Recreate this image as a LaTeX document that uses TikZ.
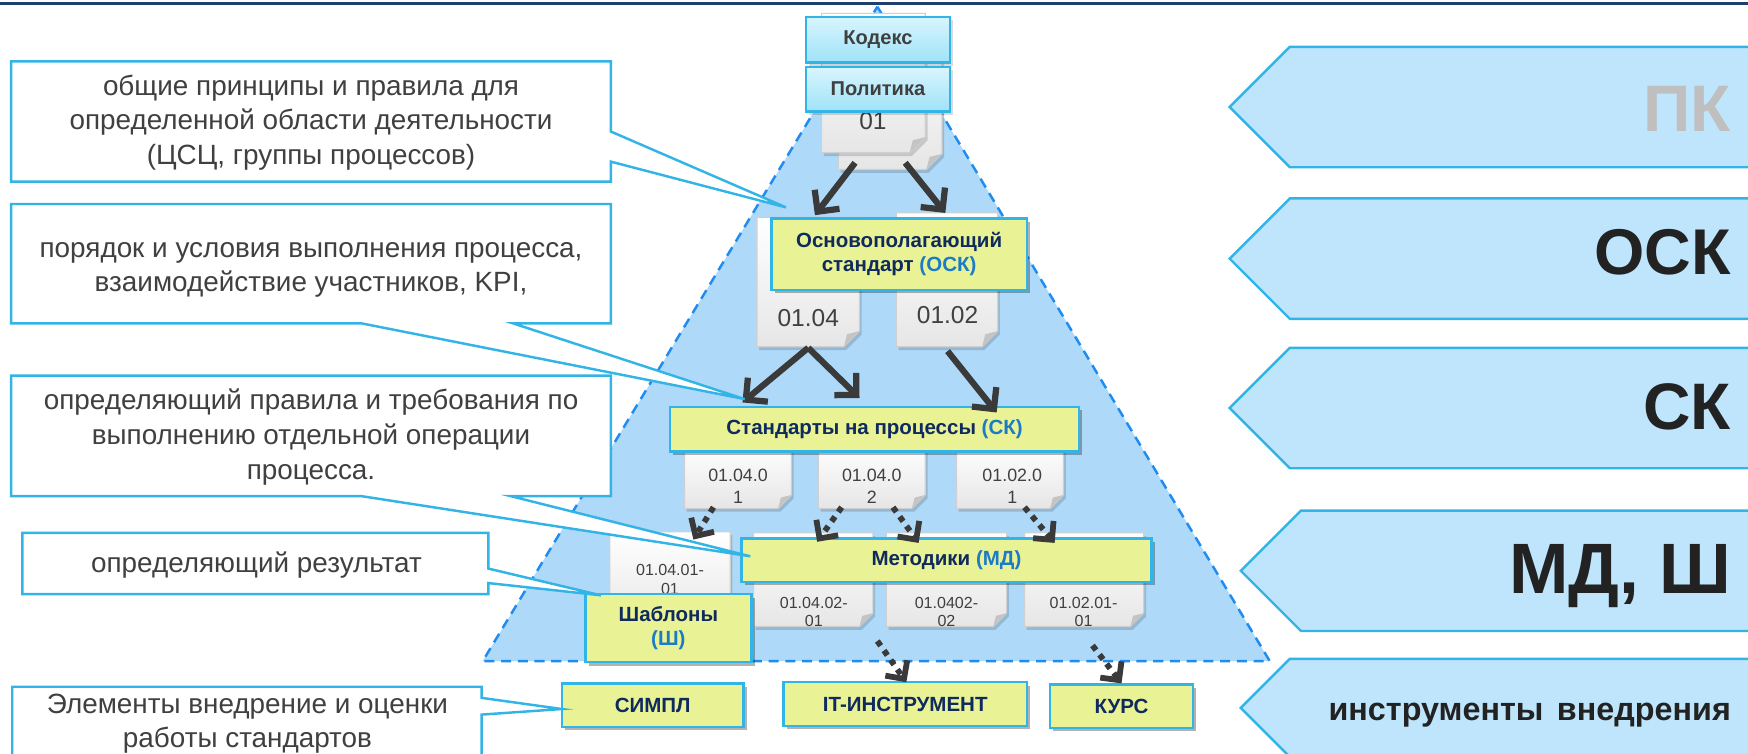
\documentclass[tikz,border=0pt]{standalone}
\usepackage{fontspec}
\setmainfont{Liberation Sans}
\usetikzlibrary{arrows.meta,shadows}
\definecolor{navyL}{HTML}{1F3F6E}
\definecolor{triF}{HTML}{AED9F9}
\definecolor{triD}{HTML}{1E8CF0}
\definecolor{rarF}{HTML}{BEE5FC}
\definecolor{cyanB}{HTML}{33B4E6}
\definecolor{yelF}{HTML}{E9F294}
\definecolor{navyT}{HTML}{0F2A5C}
\definecolor{blueT}{HTML}{1C7BC6}
\definecolor{grayT}{HTML}{404040}
\definecolor{kodT}{HTML}{D8F5FE}
\definecolor{kodB}{HTML}{9FE3F8}
\definecolor{pkG}{HTML}{BFBFBF}
\definecolor{arrG}{HTML}{3A3A3A}
\definecolor{docG}{HTML}{E6E6E6}
\definecolor{docB}{HTML}{D0D0D0}
\definecolor{foldC}{HTML}{C4C4C4}
\definecolor{darkT}{HTML}{222222}

\tikzset{
 callout/.style={fill=white, draw=cyanB, line width=1.1pt, line join=miter},
 ctext/.style={align=center, text=grayT, inner sep=0pt, font=\fontsize{12.5}{15.5}\selectfont},
 ybox/.style={fill=yelF, draw=cyanB, line width=1.1pt, inner sep=0pt, align=center, text=navyT,
   font=\bfseries\fontsize{9.2}{11}\selectfont,
   drop shadow={shadow xshift=1.5pt, shadow yshift=-1.5pt, opacity=0.3, fill=black}},
 kbox/.style={top color=kodT, bottom color=kodB, draw=cyanB, line width=1.1pt, inner sep=0pt,
   text=grayT, font=\bfseries\fontsize{9}{11}\selectfont, minimum width=64.5pt, minimum height=20.5pt},
 docst/.style={draw=docB, line width=0.5pt, top color=white, bottom color=docG},
 docsh/.style={fill=black, opacity=0.15},
 dtext/.style={text=grayT, align=center, inner sep=0pt},
 tri/.style={fill=triF, draw=triD, line width=1.1pt, dash pattern=on 4.5pt off 3pt},
 rarrow/.style={fill=rarF, draw=cyanB, line width=1.1pt},
 rtext/.style={anchor=base east, inner sep=0pt},
 sarr/.style={draw=arrG, line width=2.8pt, -{Straight Barb[length=7pt,width=14pt]}},
 darr/.style={draw=arrG, line width=2.6pt, dash pattern=on 2.6pt off 2.6pt, -{Straight Barb[length=6pt,width=12pt]}},
}

% document shape: x0,y0,x1,y1,fold
\newcommand\DocShape[5]{%
  \fill[docsh] ({#1+2},{#2+3}) -- ({#3+2},{#2+3}) -- ({#3+2},{#4-#5+3}) -- ({#3-#5+2},{#4+3}) -- ({#1+2},{#4+3}) -- cycle;
  \draw[docst] (#1,#2) -- (#3,#2) -- (#3,{#4-#5}) -- ({#3-#5},#4) -- (#1,#4) -- cycle;
  \fill[foldC] (#3,{#4-#5}) -- ({#3-#5},#4) -- ({#3-0.8*#5},{#4-0.8*#5}) -- cycle;
}

\begin{document}
\begin{tikzpicture}[x=0.5pt,y=-0.5pt]
\useasboundingbox (0,0) rectangle (1568,676);
\clip (0,0) rectangle (1568,676);
\fill[white] (0,0) rectangle (1568,676);

% top line
\draw[navyL, line width=1.5pt] (0,3) -- (1568,3);

% pyramid
\draw[tri] (787,6) -- (1139,593) -- (433,593) -- cycle;

% right arrows
\draw[rarrow] (1103,96) -- (1157,42) -- (1580,42) -- (1580,150) -- (1157,150) -- cycle;
\draw[rarrow] (1103,232) -- (1157,178) -- (1580,178) -- (1580,286) -- (1157,286) -- cycle;
\draw[rarrow] (1103,366) -- (1157,312) -- (1580,312) -- (1580,420) -- (1157,420) -- cycle;
\draw[rarrow] (1113,512) -- (1167,458) -- (1580,458) -- (1580,566) -- (1167,566) -- cycle;
\draw[rarrow] (1113,635) -- (1157,591) -- (1580,591) -- (1580,679) -- (1157,679) -- cycle;
\node[rtext, text=pkG, font=\bfseries\fontsize{29.5}{30}\selectfont] (tpk) at (1553,118) {ПК};
\node[rtext, text=darkT, font=\bfseries\fontsize{29}{30}\selectfont] (tosk) at (1553,246) {ОСК};
\node[rtext, text=darkT, font=\bfseries\fontsize{29.5}{30}\selectfont] (tsk) at (1553,385) {СК};
\node[rtext, text=darkT, font=\bfseries\fontsize{32}{34}\selectfont] (tmd) at (1553,532) {МД, Ш};
\node[rtext, text=darkT, font=\bfseries\fontsize{14.5}{16}\selectfont] (tin) at (1553,646) {инструменты\hspace{2pt} внедрения};

% documents level 1
\DocShape{752}{25}{845}{152}{14}
\DocShape{737}{12}{830}{137}{14}
\node[dtext, font=\fontsize{11}{13}\selectfont] (d01) at (783,109) {01};

% level 2 docs
\DocShape{679}{195}{771}{311}{14}
\DocShape{804}{191}{895}{311}{14}
\node[dtext, font=\fontsize{11}{13}\selectfont] (d0104) at (725,285) {01.04};
\node[dtext, font=\fontsize{11}{13}\selectfont] (d0102) at (850,283) {01.02};

% level 3 docs
\DocShape{614}{398}{710}{456}{12}
\DocShape{734}{398}{830}{456}{12}
\DocShape{858}{398}{954}{456}{12}
\node[dtext, font=\fontsize{8}{10}\selectfont] (d3a) at (662,436) {01.04.0\\1};
\node[dtext, font=\fontsize{8}{10}\selectfont] (d3b) at (782,436) {01.04.0\\2};
\node[dtext, font=\fontsize{8}{10}\selectfont] (d3c) at (908,436) {01.02.0\\1};

% level 4 docs
\DocShape{547}{477}{655}{562}{12}
\DocShape{676}{478}{783}{562}{12}
\DocShape{795}{478}{903}{562}{12}
\DocShape{919}{478}{1026}{562}{12}
\node[dtext, font=\fontsize{7.2}{8.3}\selectfont] (d4a) at (601,520) {01.04.01-\\01};
\node[dtext, font=\fontsize{7.2}{8.3}\selectfont] (d4b) at (730,549) {01.04.02-\\01};
\node[dtext, font=\fontsize{7.2}{8.3}\selectfont] (d4c) at (849,549) {01.0402-\\02};
\node[dtext, font=\fontsize{7.2}{8.3}\selectfont] (d4d) at (972,549) {01.02.01-\\01};

% top boxes
\fill[black, opacity=0.15] (726,18) rectangle (855,59);
\fill[black, opacity=0.15] (726,63) rectangle (855,103);
\node[kbox] (kod) at (787.5,35.5) {Кодекс};
\node[kbox, minimum height=20pt] (pol) at (787.5,80) {Политика};

% yellow boxes
\node[ybox, minimum width=114.5pt, minimum height=32pt] (osk) at (806.5,228) {Основополагающий\\стандарт {\color{blueT}(ОСК)}};
\node[ybox, minimum width=183.5pt, minimum height=20pt] (sk) at (784.5,385) {Стандарты на процессы {\color{blueT}(СК)}};
\node[ybox, minimum width=184pt, minimum height=19.5pt] (md) at (849,502.5) {Методики {\color{blueT}(МД)}};
\node[ybox, minimum width=74.5pt, minimum height=30.5pt] (sh) at (599.5,563.5) {Шаблоны\\{\color{blueT}(Ш)}};
\node[ybox, minimum width=81.5pt, minimum height=19.5pt] (simpl) at (585.5,632.5) {СИМПЛ};
\node[ybox, minimum width=109pt, minimum height=19.5pt] (it) at (812,631.5) {IT-ИНСТРУМЕНТ};
\node[ybox, minimum width=64pt, minimum height=19.5pt] (kurs) at (1006,633.5) {КУРС};

% arrow end points
\coordinate (a1s) at (767,146); \coordinate (a1e) at (731,193);
\coordinate (a2s) at (812,146); \coordinate (a2e) at (848,191);
\coordinate (p104) at (725,312); \coordinate (sk1) at (666,361); \coordinate (sk2) at (771,357);
\coordinate (p102) at (850,315); \coordinate (sk3) at (894,370);
\coordinate (d1s) at (640,455); \coordinate (d1e) at (622,484);
\coordinate (d2s) at (755,455); \coordinate (d2e) at (733,486);
\coordinate (d3s) at (801,455); \coordinate (d3e) at (824,487);
\coordinate (d4s) at (919,455); \coordinate (d4e) at (946,487);
\coordinate (d5s) at (787,575); \coordinate (d5e) at (813,612);
\coordinate (d6s) at (980,579); \coordinate (d6e) at (1006,613);

\draw[sarr] (a1s) -- (a1e);
\draw[sarr] (a2s) -- (a2e);
\draw[sarr] (p104) -- (sk1);
\draw[sarr] (p104) -- (sk2);
\draw[sarr] (p102) -- (sk3);
\draw[darr] (d1s) -- (d1e);
\draw[darr] (d2s) -- (d2e);
\draw[darr] (d3s) -- (d3e);
\draw[darr] (d4s) -- (d4e);
\draw[darr] (d5s) -- (d5e);
\draw[darr] (d6s) -- (d6e);

% callouts
\draw[callout] (10,55) -- (548,55) -- (548,118) -- (705,186) -- (548,145) -- (548,163) -- (10,163) -- cycle;
\node[ctext] (c1) at (279,110) {общие принципы и правила для\\определенной области деятельности\\(ЦСЦ, группы процессов)};
\draw[callout] (10,183) -- (548,183) -- (548,290) -- (460,290) -- (668,358) -- (324,290) -- (10,290) -- cycle;
\node[ctext] (c2) at (279,242) {порядок и условия выполнения процесса,\\взаимодействие участников, KPI,};
\draw[callout] (10,337) -- (548,337) -- (548,445) -- (458,445) -- (673,499) -- (324,445) -- (10,445) -- cycle;
\node[ctext] (c3) at (279,392) {определяющий правила и требования по\\выполнению отдельной операции\\процесса.};
\draw[callout] (20,478) -- (438,478) -- (438,510) -- (539,534) -- (438,523) -- (438,533) -- (20,533) -- cycle;
\node[ctext] (c4) at (230,507) {определяющий результат};
\draw[callout] (11,616) -- (432,616) -- (432,626) -- (504,636) -- (432,641) -- (432,700) -- (11,700) -- cycle;
\node[ctext] (c5) at (222,649) {Элементы внедрение и оценки\\работы стандартов};
\end{tikzpicture}
\end{document}
